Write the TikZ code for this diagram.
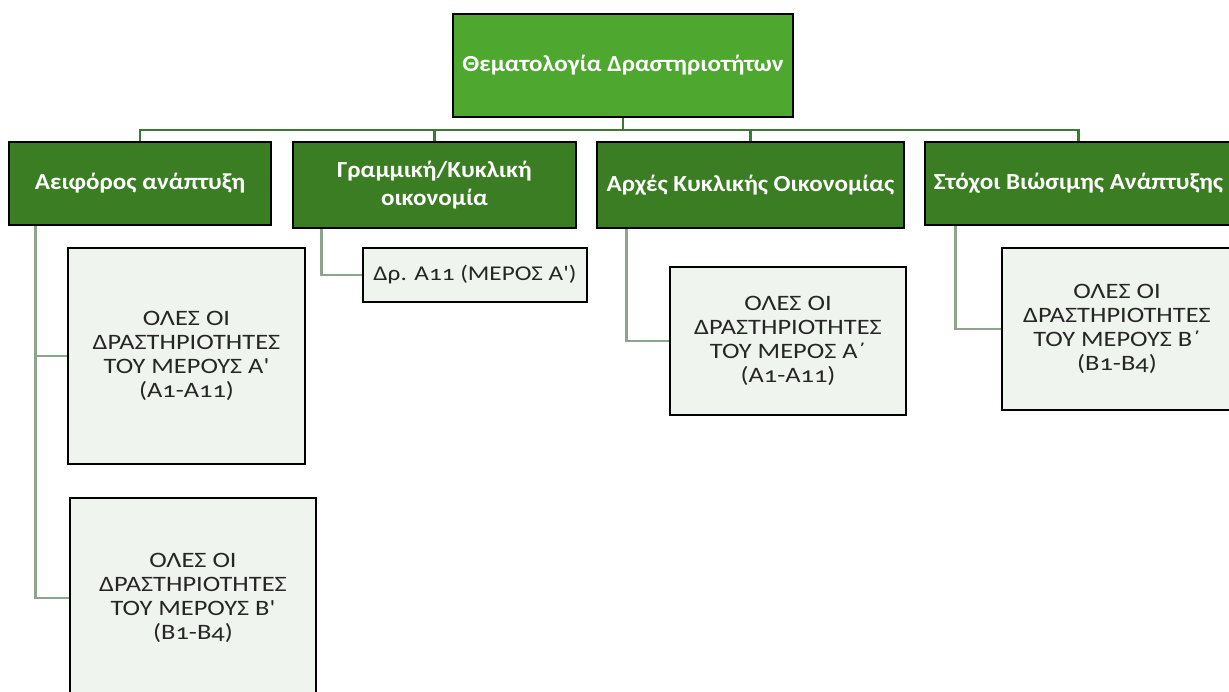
\documentclass[tikz,border=0pt]{standalone}
\usepackage{fontspec}
\setmainfont[Numbers=OldStyle]{Carlito}
\newfontfamily\hdrfont[Numbers=OldStyle,FakeStretch=1.09,Ligatures=TeXOff]{Carlito}
\newfontfamily\leaffont[Numbers=OldStyle,FakeStretch=1.2,Ligatures=TeXOff]{Carlito}
\definecolor{topfill}{HTML}{4EA72E}
\definecolor{hdrfill}{HTML}{3B7D23}
\definecolor{leaffill}{HTML}{F0F4EE}
\definecolor{busline}{HTML}{3A7A34}
\definecolor{subline}{HTML}{8CA58C}
\begin{document}
\begin{tikzpicture}[x=1pt,y=-1pt,
  topbox/.style={draw=black,line width=2.5pt,fill=topfill,text=white,font=\hdrfont\fontsize{23}{27}\selectfont\bfseries,align=center,inner sep=0pt},
  hdrbox/.style={draw=black,line width=2.5pt,fill=hdrfill,text=white,font=\hdrfont\fontsize{23}{28}\selectfont\bfseries,align=center,inner sep=0pt},
  leafbox/.style={draw=black,line width=2.5pt,fill=leaffill,text=black!85,font=\leaffont\fontsize{22}{24}\selectfont,align=center,inner sep=0pt},
  bus/.style={draw=busline,line width=2.6pt},
  sub/.style={draw=subline,line width=2.6pt}]
\useasboundingbox (0,0) rectangle (1229,691);
\node[topbox,minimum width=340pt,minimum height=103pt] (top) at (623,65.5) {Θεματολογία Δραστηριοτήτων};
\node[hdrbox,minimum width=262pt,minimum height=83pt] (A) at (140,183.5) {Αειφόρος ανάπτυξη};
\node[hdrbox,minimum width=283pt,minimum height=86pt] (B) at (434.5,185) {Γραμμική/Κυκλική\\οικονομία};
\node[hdrbox,minimum width=307pt,minimum height=86pt] (C) at (750.5,185) {Αρχές Κυκλικής Οικονομίας};
\node[hdrbox,minimum width=307pt,minimum height=83pt] (D) at (1078.5,183.5) {Στόχοι Βιώσιμης Ανάπτυξης};
\node[leafbox,minimum width=237pt,minimum height=216pt] (A1) at (186.5,356) {ΟΛΕΣ ΟΙ\\ΔΡΑΣΤΗΡΙΟΤΗΤΕΣ\\ΤΟΥ ΜΕΡΟΥΣ Α'\\(Α1-Α11)};
\node[leafbox,minimum width=246pt,minimum height=200pt] (A2) at (193,598) {ΟΛΕΣ ΟΙ\\ΔΡΑΣΤΗΡΙΟΤΗΤΕΣ\\ΤΟΥ ΜΕΡΟΥΣ Β'\\(Β1-Β4)};
\node[leafbox,minimum width=224pt,minimum height=54pt,font=\leaffont\fontsize{21}{24}\selectfont] (B1) at (475,275) {Δρ. Α11 (ΜΕΡΟΣ Α')};
\node[leafbox,minimum width=236pt,minimum height=148pt] (C1) at (788,341) {ΟΛΕΣ ΟΙ\\ΔΡΑΣΤΗΡΙΟΤΗΤΕΣ\\ΤΟΥ ΜΕΡΟΣ Α΄\\(Α1-Α11)};
\node[leafbox,minimum width=230pt,minimum height=162pt] (D1) at (1117,329) {ΟΛΕΣ ΟΙ\\ΔΡΑΣΤΗΡΙΟΤΗΤΕΣ\\ΤΟΥ ΜΕΡΟΥΣ Β΄\\(Β1-Β4)};
\coordinate (busy) at (623,130);
\draw[bus] (top.south) -- (busy) -| (A.north);
\draw[bus] (busy) -| (B.north);
\draw[bus] (busy) -| (C.north);
\draw[bus] (busy) -| (D.north);
\draw[sub] ([xshift=28pt]A.south west) |- (A1.west);
\draw[sub] ([xshift=28pt]A.south west) |- (A2.west);
\draw[sub] ([xshift=30pt]B.south west) |- (B1.west);
\draw[sub] ([xshift=31pt]C.south west) |- (C1.west);
\draw[sub] ([xshift=32pt]D.south west) |- (D1.west);
\end{tikzpicture}
\end{document}
